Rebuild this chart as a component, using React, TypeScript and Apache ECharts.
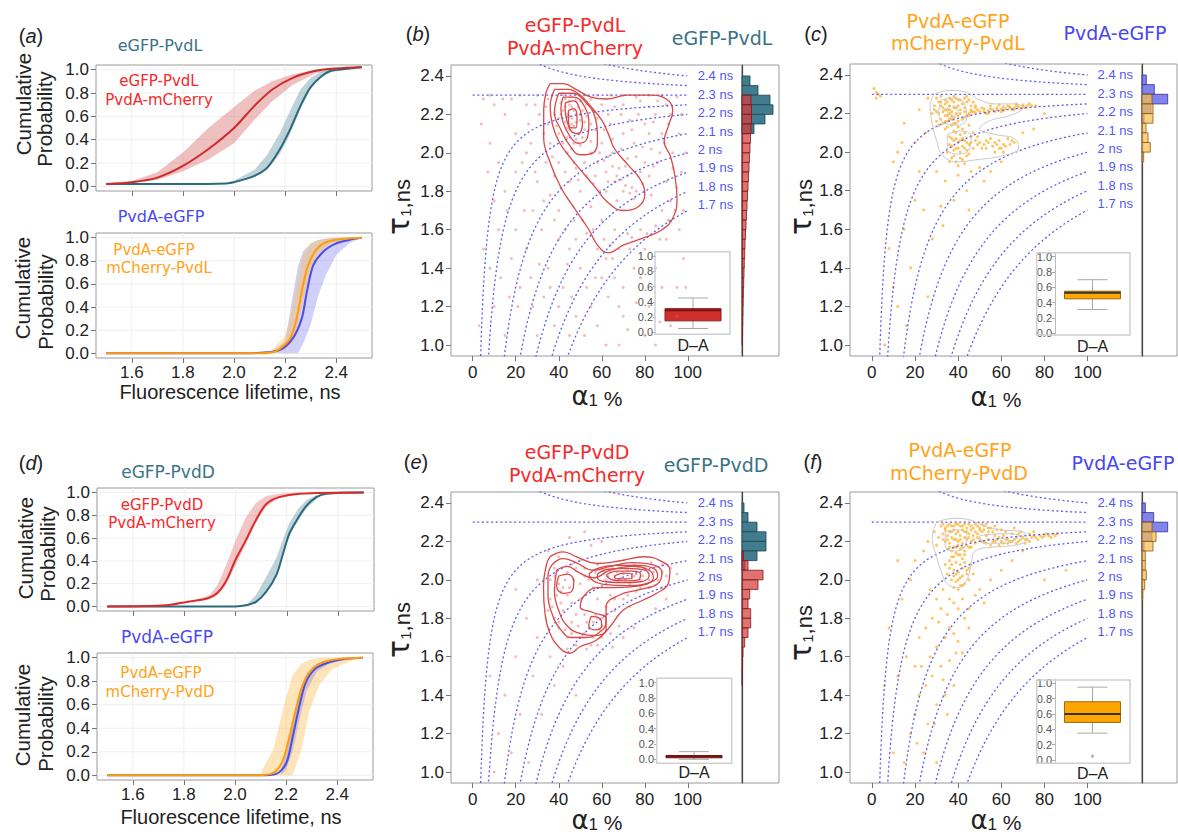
import React, { useEffect, useRef } from "react";
import * as echarts from "echarts";

const LIB = "'Liberation Sans', Arial, Helvetica, sans-serif";
const DJV = "'DejaVu Sans', Verdana, sans-serif";

const C_TEAL = "#3a7384";
const C_RED = "#f52a2a";
const C_BLUE = "#4848ee";
const C_ORANGE = "#ffa31a";

// ---------------- CDF panels (a), (d) ----------------
const CDF_X_MIN = 1.46, CDF_X_MAX = 2.54, CDF_Y_MIN = -0.04, CDF_Y_MAX = 1.04;
const CDF_X_TICKS = [1.6, 1.8, 2.0, 2.2, 2.4];
const CDF_Y_TICKS = [0, 0.2, 0.4, 0.6, 0.8, 1.0];

const A1_RED_LINE = [[1.5,0.02],[1.6,0.035],[1.7,0.075],[1.8,0.175],[1.9,0.32],[2.0,0.5],[2.08,0.69],[2.15,0.83],[2.23,0.93],[2.32,0.99],[2.4,1.01],[2.5,1.02]];
const A1_RED_BAND = [[1.5,0.02,0.025],[1.6,0.03,0.045],[1.7,0.055,0.12],[1.8,0.13,0.29],[1.9,0.23,0.5],[2.0,0.37,0.68],[2.08,0.57,0.82],[2.15,0.73,0.9],[2.23,0.87,0.96],[2.32,0.97,1.0],[2.4,1.0,1.01],[2.5,1.02,1.02]];
const A1_TEAL_LINE = [[1.5,0.02],[1.8,0.02],[1.97,0.025],[2.0,0.035],[2.08,0.09],[2.13,0.16],[2.18,0.32],[2.22,0.49],[2.26,0.69],[2.3,0.85],[2.34,0.94],[2.38,0.99],[2.45,1.01],[2.5,1.02]];
const A1_TEAL_BAND = [[1.97,0.02,0.03],[2.0,0.03,0.05],[2.08,0.08,0.14],[2.13,0.14,0.27],[2.18,0.28,0.46],[2.22,0.45,0.65],[2.26,0.66,0.83],[2.3,0.84,0.93],[2.34,0.93,0.98],[2.38,0.98,1.0],[2.45,1.0,1.01]];

const A2_BLUE_LINE = [[1.5,0],[2.0,0.0],[2.1,0.005],[2.18,0.03],[2.23,0.13],[2.265,0.3],[2.285,0.53],[2.31,0.76],[2.35,0.88],[2.4,0.95],[2.45,0.98],[2.5,1.0]];
const A2_BLUE_BAND = [[2.15,0,0.02],[2.2,0,0.1],[2.23,0,0.5],[2.25,0.0,0.75],[2.27,0.08,0.88],[2.3,0.25,0.95],[2.33,0.5,0.98],[2.36,0.68,0.99],[2.4,0.85,1.0],[2.45,0.95,1.0],[2.5,1.0,1.0]];
const A2_ORANGE_LINE = [[1.5,0],[2.1,0.0],[2.15,0.01],[2.18,0.04],[2.22,0.13],[2.245,0.3],[2.27,0.59],[2.29,0.76],[2.32,0.89],[2.36,0.96],[2.43,0.99],[2.5,1.0]];
const A2_ORANGE_BAND = [[2.15,0,0.03],[2.2,0.03,0.15],[2.23,0.1,0.4],[2.25,0.25,0.65],[2.27,0.45,0.85],[2.3,0.72,0.95],[2.33,0.86,0.98],[2.38,0.95,1.0],[2.45,0.99,1.0]];

const D1_RED_LINE = [[1.5,0.0],[1.73,0.01],[1.81,0.04],[1.89,0.07],[1.93,0.12],[1.965,0.23],[2.0,0.41],[2.04,0.58],[2.08,0.76],[2.12,0.9],[2.17,0.96],[2.25,0.99],[2.5,1.0]];
const D1_RED_BAND = [[1.85,0.05,0.06],[1.9,0.07,0.1],[1.93,0.1,0.19],[1.965,0.2,0.37],[2.0,0.36,0.58],[2.04,0.55,0.78],[2.08,0.74,0.91],[2.12,0.88,0.97],[2.17,0.95,0.99],[2.25,0.99,1.0]];
const D1_TEAL_LINE = [[1.5,0.0],[2.0,0.0],[2.04,0.01],[2.08,0.04],[2.12,0.13],[2.16,0.28],[2.185,0.46],[2.21,0.64],[2.245,0.78],[2.275,0.88],[2.315,0.96],[2.355,0.99],[2.5,1.0]];
const D1_TEAL_BAND = [[2.05,0.01,0.03],[2.08,0.03,0.1],[2.12,0.12,0.26],[2.16,0.27,0.43],[2.185,0.45,0.59],[2.21,0.62,0.73],[2.245,0.76,0.86],[2.28,0.87,0.94],[2.32,0.95,0.98]];

const D2_ORANGE_LINE = [[1.5,0],[2.09,0.0],[2.15,0.02],[2.186,0.12],[2.212,0.32],[2.238,0.56],[2.264,0.76],[2.297,0.89],[2.342,0.96],[2.407,0.99],[2.5,1.0]];
const D2_ORANGE_BAND = [[2.1,0,0.02],[2.15,0.0,0.22],[2.19,0.0,0.58],[2.225,0.0,0.85],[2.26,0.22,0.95],[2.29,0.54,0.98],[2.33,0.77,1.0],[2.38,0.9,1.0],[2.45,0.97,1.0],[2.5,1.0,1.0]];
const D2_BLUE_LINE = [[1.5,0],[2.1,0.0],[2.16,0.01],[2.2,0.1],[2.225,0.32],[2.251,0.58],[2.277,0.79],[2.316,0.91],[2.368,0.96],[2.433,0.99],[2.5,1.0]];
const D2_BLUE_BAND = [[2.18,0.0,0.05],[2.2,0.05,0.18],[2.225,0.2,0.45],[2.25,0.45,0.7],[2.28,0.72,0.87],[2.32,0.88,0.95],[2.37,0.95,0.98],[2.43,0.98,1.0]];

// ---------------- scatter panels (b), (c), (e), (f) ----------------
const SC_X_MIN = -10.1, SC_X_MAX = 125.2, SC_Y_MIN = 0.943, SC_Y_MAX = 2.457;
const SC_X_TICKS = [0, 20, 40, 60, 80, 100];
const SC_Y_TICKS = [1.0, 1.2, 1.4, 1.6, 1.8, 2.0, 2.2, 2.4];

// iso-lifetime guide lines of the two-exponential model: tau_m = a*tau1 + (1-a)*tau2
const TAU2 = 2.3;
const ISO_TAUM = [2.4, 2.35, 2.3, 2.25, 2.2, 2.1, 2.0, 1.9, 1.8, 1.7];
const ISO_LABELS = ["2.4 ns", "2.3 ns", "2.2 ns", "2.1 ns", "2 ns", "1.9 ns", "1.8 ns", "1.7 ns"];
const ISO_LABEL_TAU = [2.4, 2.305, 2.209, 2.113, 2.018, 1.923, 1.827, 1.732];
const ISO_LABEL_X = 104.4;

const B_PTS = [
[44,2.2],[46,2.18],[47,2.14],[45,2.12],[43,2.16],[48,2.2],[50,2.17],[49,2.1],[46,2.24],[42,2.22],[51,2.22],[44,2.08],[47,2.05],[52,2.12],[40,2.18],[53,2.19],[45,2.27],[48,2.28],[41,2.26],[50,2.04],[55,2.15],[38,2.2],[46,2.15],[44,2.13],[48,2.16],[45,2.19],
[55,2.0],[58,1.95],[62,1.9],[66,1.85],[70,1.8],[74,1.82],[60,2.05],[65,2.0],[68,1.92],[72,1.88],[57,1.88],[52,1.95],[48,1.92],[62,1.8],[67,1.75],[75,1.76],[78,1.9],[80,1.95],[64,2.15],[70,2.1],[75,2.05],[80,2.15],[85,2.2],[88,2.1],[90,2.25],[83,2.02],[86,1.95],[90,1.85],[92,1.75],[88,1.7],[85,1.62],[78,1.6],[72,1.58],[66,1.6],[60,1.65],[55,1.72],[50,1.8],[45,1.85],[40,1.95],[36,2.05],[35,2.15],[60,2.25],[70,2.25],[78,2.27],[55,2.28],
[5,2.28],[10,2.25],[15,2.2],[20,2.1],[25,2.0],[20,1.9],[15,1.8],[12,1.6],[8,1.4],[10,1.2],[15,1.05],[22,1.3],[25,1.5],[28,1.7],[30,1.85],[32,1.6],[35,1.4],[28,1.2],[38,1.1],[42,1.3],[45,1.5],[40,1.7],[50,1.4],[55,1.2],[60,1.35],[65,1.45],[70,1.3],[75,1.4],[80,1.5],[85,1.4],[90,1.55],[95,1.3],[92,1.1],[82,1.2],[72,1.08],[62,1.0],[52,1.05],[96,1.6],[97,1.9],[96,2.1],[18,2.28],[25,2.25],[30,2.3],[35,2.28],[12,1.95],[5,1.5],[3,1.1],[18,1.45],[24,1.7],[33,1.25],[48,1.15],[58,1.5],[68,1.2],[78,1.35],[88,1.3],[98,1.45],[93,2.0],[26,2.15],[8,2.05],[40,1.55],[47,1.65],[53,1.58],[63,1.25],[73,1.5],[83,1.78],[36,1.78],[44,1.42],
[8,2.3],[22,2.3],[42,2.3],[52,2.3],[64,2.3],[76,2.29],[88,2.3],[95,2.29]
];
const B_PTS_2 = [
[43,2.24],[45,2.25],[47,2.22],[49,2.24],[50,2.2],[52,2.16],[51,2.08],[48,2.07],[46,2.02],[44,2.0],[42,2.05],[40,2.1],[39,2.14],[41,2.2],[43,2.28],[46,2.29],[50,2.27],[53,2.25],[56,2.22],[58,2.18],[57,2.12],[55,2.06],[59,2.0],[61,1.96],[63,1.98],[65,1.93],[67,1.88],[69,1.86],[71,1.83],[73,1.79],[76,1.8],[79,1.84],[82,1.88],[84,1.93],[87,2.0],[89,2.05],[91,2.15],[92,2.2],[86,2.27],[82,2.24],[77,2.2],[73,2.17],[69,2.2],[66,2.24],[63,2.2],[61,2.12],[65,2.07],[69,2.02],[72,1.97],[76,1.98],[79,2.03],[82,2.1],[84,2.16],[74,2.12],[71,1.93],[63,1.85],[59,1.8],[56,1.84],[53,1.88],[49,1.86],[47,1.95],[43,1.9],[41,1.82],[38,1.88],[34,1.95],[37,1.98],[33,2.1],[31,2.2],[29,2.25],[27,2.05],[23,1.95],[29,1.9],[33,1.75],[38,1.65],[43,1.6],[48,1.55],[51,1.65],[56,1.6],[61,1.55],[64,1.52],[68,1.5],[74,1.56],[81,1.58],[87,1.55],[91,1.65],[94,1.7],[95,1.82],[93,1.92],[97,2.2],[99,2.0],[98,1.7],[99,1.3],[95,1.15],[87,1.12],[80,1.05],[76,1.22],[70,1.15],[66,1.35],[62,1.45],[57,1.35],[53,1.3],[46,1.25],[40,1.2],[36,1.3],[31,1.42],[27,1.35],[21,1.2],[17,1.25],[13,1.35],[20,1.6],[16,1.7],[10,1.75],[7,1.9],[4,2.15],[14,2.28],[34,2.24],[37,2.3],[58,2.3],[70,2.3],[82,2.3],[30,1.05],[45,1.05],[58,1.1],[68,1.0],[85,1.0]
];
const B_CONTOUR_1 = [[36,2.36],[42,2.36],[48,2.33],[55,2.29],[62,2.28],[72,2.3],[82,2.3],[90,2.28],[93,2.22],[91,2.14],[89,2.06],[92,1.98],[94,1.88],[95,1.76],[93,1.66],[88,1.6],[80,1.56],[70,1.52],[63,1.48],[58,1.52],[54,1.6],[48,1.7],[41,1.82],[36,1.95],[33,2.08],[33,2.22],[34,2.31],[36,2.36]];
const B_CONTOUR_2 = [[38,2.33],[44,2.33],[50,2.3],[55,2.24],[60,2.17],[63,2.1],[66,2.02],[72,1.94],[78,1.86],[80,1.78],[77,1.72],[70,1.7],[63,1.74],[57,1.82],[51,1.9],[45,1.98],[40,2.06],[37,2.15],[36,2.24],[38,2.33]];
const B_CONTOUR_3 = [[40,2.31],[46,2.31],[52,2.27],[57,2.18],[58,2.08],[56,2.0],[50,1.99],[45,2.04],[41,2.12],[38,2.21],[40,2.31]];
const B_CONTOUR_4 = [[42,2.29],[47,2.29],[52,2.24],[54,2.15],[53,2.07],[49,2.05],[45,2.09],[42,2.16],[41,2.23],[42,2.29]];
const B_CONTOUR_5 = [[43,2.26],[47,2.27],[50,2.22],[51,2.15],[49,2.1],[46,2.11],[44,2.16],[43,2.22],[43,2.26]];
const B_CONTOUR_6 = [[44.5,2.22],[47,2.23],[48.5,2.18],[48,2.13],[46,2.13],[44.5,2.17],[44.5,2.22]];
const B_HIST_TEAL = [[2.35,8],[2.3,16],[2.25,28],[2.2,31],[2.15,23],[2.1,12]];
const B_HIST_RED = [[2.25,9],[2.2,9.5],[2.15,9.5],[2.1,9],[2.05,8.5],[2.0,8],[1.95,7.5],[1.9,7],[1.85,6.5],[1.8,6],[1.75,5.5],[1.7,5],[1.65,4.5],[1.6,4],[1.55,3.5],[1.5,3],[1.45,2.7],[1.4,2.3],[1.35,2],[1.3,1.7],[1.25,1.4],[1.2,1.2],[1.15,1],[1.1,0.8],[1.05,0.6],[1.0,0.5]];
const B_BOX = [0.05, 0.15, 0.29, 0.31, 0.45];

const C_PTS = [
[30,2.28],[32,2.26],[34,2.27],[36,2.28],[38,2.26],[40,2.27],[42,2.25],[44,2.26],[46,2.24],[33,2.23],[35,2.22],[37,2.21],[39,2.23],[41,2.22],[43,2.21],[31,2.2],[34,2.19],[36,2.2],[38,2.18],[40,2.19],[42,2.17],[45,2.19],[30,2.16],[33,2.15],[35,2.16],[37,2.14],[39,2.15],[29,2.24],[28,2.2],[32,2.29],[38,2.29],[44,2.29],[47,2.21],[36,2.24],[34,2.25],[37,2.17],[35,2.13],[40,2.13],
[45,2.2],[48,2.205],[50,2.21],[52,2.21],[54,2.215],[56,2.22],[58,2.22],[60,2.225],[62,2.225],[64,2.23],[66,2.23],[68,2.235],[70,2.235],[72,2.24],[74,2.24],[76,2.24],[53,2.2],[57,2.21],[61,2.215],[65,2.22],[69,2.225],[51,2.23],[55,2.24],[59,2.245],[63,2.24],[67,2.25],
[36,2.08],[38,2.06],[40,2.05],[42,2.07],[44,2.05],[39,2.1],[41,2.09],[43,2.1],[37,2.03],[39,2.02],[41,2.0],[43,2.02],[45,2.04],[46,2.08],[35,2.0],[38,1.98],[42,1.96],[36,1.95],[40,1.93],[44,1.98],[47,2.02],
[48,2.06],[50,2.05],[52,2.04],[54,2.05],[56,2.03],[58,2.04],[60,2.02],[62,2.03],[64,2.04],[66,2.05],[55,2.07],[59,2.06],[63,2.07],[51,2.02],[57,2.0],[61,2.0],
[1,2.33],[2,2.31],[3,2.3],[4,2.29],[2,2.28],
[12,2.0],[14,2.05],[10,1.95],[20,2.05],[25,2.1],[22,1.9],[30,1.9],[34,1.85],[40,1.88],[46,1.9],[50,1.92],[15,1.6],[8,1.5],[10,1.3],[12,1.2],[18,1.4],[24,1.7],[28,1.55],[33,1.62],[38,1.75],[44,1.8],[52,1.85],[60,1.95],[70,2.1],[75,2.12],[80,2.2],[26,1.25],[6,1.0],[16,1.1],[45,1.7],[20,1.75],[32,1.72],[55,1.9],[15,2.15],[22,2.22],[26,2.28]
];
const C_PTS_2 = [
[33,2.21],[35,2.19],[37,2.19],[39,2.2],[41,2.2],[43,2.23],[36,2.22],[38,2.23],[40,2.24],[34,2.22],[32,2.24],[31,2.26],[35,2.26],[37,2.27],[39,2.28],[41,2.27],[43,2.28],[45,2.27],[47,2.26],[48,2.23],[46,2.21],[44,2.19],[43,2.18],[40,2.16],[38,2.15],[36,2.17],[34,2.16],[32,2.17],[30,2.21],[29,2.22],[31,2.14],[34,2.12],[38,2.11],[42,2.12],[45,2.14],
[37,2.07],[39,2.07],[41,2.06],[43,2.06],[40,2.02],[42,2.03],[44,2.01],[38,2.01],[36,2.04],[46,2.05],[45,1.99],[41,1.97],[39,1.95],[43,1.94],[37,1.97],[49,2.04],[53,2.06],[57,2.05],[61,2.04],[65,2.06],[53,2.02],[59,2.02],[47,2.1],[49,2.08],
[46,2.22],[49,2.22],[52,2.225],[55,2.225],[58,2.23],[61,2.235],[64,2.235],[67,2.24],[70,2.245],[73,2.25],[48,2.24],[54,2.2],[60,2.21],[66,2.22],[71,2.23]
];
const C_CONTOUR_1 = [[29,2.3],[36,2.32],[44,2.31],[50,2.27],[58,2.25],[66,2.25],[70,2.23],[64,2.19],[54,2.16],[50,2.12],[58,2.09],[66,2.07],[68,2.02],[60,1.98],[48,1.96],[40,1.95],[33,1.98],[30,2.06],[28,2.15],[27,2.24],[29,2.3]];
const C_CONTOUR_2 = [[32,2.27],[38,2.28],[43,2.25],[44,2.18],[40,2.14],[34,2.15],[31,2.2],[32,2.27]];
const C_CONTOUR_3 = [[35,2.09],[41,2.11],[46,2.08],[45,2.01],[39,1.99],[35,2.02],[35,2.09]];
const C_CONTOUR_4 = [[35,2.23],[38,2.24],[40,2.21],[38,2.18],[35,2.19],[35,2.23]];
const C_HIST_BLUE = [[2.35,4.3],[2.3,12.3],[2.25,25.7],[2.2,9],[2.15,2]];
const C_HIST_ORANGE = [[2.25,10],[2.2,11],[2.15,11],[2.1,4],[2.05,6],[2.0,8.3],[1.95,1.7]];
const C_BOX = [0.31, 0.45, 0.53, 0.55, 0.7];

const E_PTS = [
[66,2.02],[70,2.03],[74,2.01],[68,2.0],[72,2.05],[64,2.04],[76,2.03],[78,2.0],[62,2.0],[80,2.06],[84,2.04],[86,2.0],[60,2.06],[73,1.98],[69,2.01],[71,2.0],[67,2.04],[75,2.02],
[40,1.98],[43,2.0],[45,1.96],[41,1.94],[38,2.02],[44,2.04],
[56,1.78],[58,1.8],[60,1.76],[54,1.75],[62,1.82],[52,1.72],
[48,2.06],[52,2.02],[56,1.96],[50,1.9],[46,1.88],[42,1.84],[40,1.75],[44,1.7],[48,1.66],[52,1.82],[58,1.9],[64,1.92],[70,1.9],[76,1.94],[82,1.96],[66,1.84],[36,1.9],[38,1.8],[46,1.78],[60,1.7],[55,1.66],[50,2.1],[58,2.08],[88,2.08],[90,2.02],
[45,2.22],[52,2.25],[60,2.2],[35,2.15],[30,2.0],[25,1.8],[20,1.6],[15,1.4],[12,1.2],[18,1.1],[28,1.5],[32,1.3],[38,1.45],[42,1.55],[48,1.4],[36,1.6],[30,1.7],[22,1.3],[10,1.0],[26,1.05],[70,1.7],[75,1.75],[85,1.85],[90,1.9],[65,1.65],[40,2.12],[8,1.5],[55,2.18],[95,2.03],[20,1.95]
];
const E_PTS_2 = [
[65,2.06],[67,1.99],[71,2.06],[77,2.06],[79,2.02],[82,2.0],[85,2.07],[88,2.04],[63,2.02],[61,2.04],[57,2.04],[54,2.0],[50,1.98],[47,2.0],[42,1.96],[39,1.92],[37,1.86],[40,1.78],[43,1.74],[46,1.72],[50,1.7],[53,1.78],[57,1.82],[60,1.8],[59,1.74],[56,1.7],[62,1.86],[66,1.9],[72,1.92],[78,1.96],[83,2.09],[75,2.08],[69,2.08],[52,2.06],[46,2.08],[44,1.92],[48,1.82],[49,1.76],[41,1.88],[38,2.06],[36,2.0],[35,1.84],[44,1.64],[53,1.64],[58,1.66],[64,1.72],[68,1.76],[73,1.86],[88,1.96],[92,2.06]
];
const E_CONTOUR_1 = [[35.9,2.12],[42.1,2.146],[48.3,2.12],[57.6,2.085],[70,2.102],[79.3,2.12],[87.1,2.1],[91.7,2.05],[90.9,1.98],[85.5,1.93],[79.3,1.895],[70,1.843],[63.8,1.756],[57.6,1.687],[49.9,1.652],[45.2,1.618],[40.6,1.644],[35.9,1.722],[33.6,1.826],[32.9,1.964],[34.4,2.085],[35.9,2.12]];
const E_CONTOUR_2 = [[37,2.08],[42,2.11],[48,2.09],[56,2.05],[64,2.07],[74,2.09],[83,2.08],[88,2.04],[86,1.98],[78,1.95],[68,1.92],[62,1.86],[62,1.78],[58,1.72],[52,1.7],[46,1.7],[41,1.74],[37,1.82],[35,1.92],[35,2.02],[37,2.08]];
const E_CONTOUR_3 = [[39,2.05],[44,2.07],[49,2.04],[56,2.01],[64,2.05],[74,2.07],[82,2.05],[84,2.01],[78,1.97],[66,1.96],[58,1.96],[52,1.92],[50,1.86],[56,1.83],[62,1.8],[62,1.74],[57,1.71],[50,1.72],[44,1.76],[40,1.84],[38,1.94],[39,2.05]];
const E_CONTOUR_4 = [[40,2.02],[44,2.03],[47,1.99],[46,1.94],[42,1.93],[39,1.97],[40,2.02]];
const E_CONTOUR_5 = [[55,1.81],[59,1.8],[60,1.76],[57,1.74],[54,1.76],[55,1.81]];
const E_CONTOUR_6 = [[54,2.03],[58,2.06],[66,2.075],[76,2.075],[84,2.06],[86,2.02],[82,1.985],[72,1.97],[62,1.975],[56,1.995],[54,2.03]];
const E_CONTOUR_7 = [[58,2.03],[63,2.055],[72,2.06],[80,2.05],[82,2.02],[78,1.99],[70,1.985],[62,1.99],[58,2.01],[58,2.03]];
const E_CONTOUR_8 = [[62,2.025],[67,2.045],[74,2.045],[78,2.03],[77,2.0],[71,1.995],[65,2.0],[62,2.025]];
const E_CONTOUR_9 = [[66,2.02],[70,2.035],[74,2.03],[74,2.01],[70,2.005],[66,2.01],[66,2.02]];
const E_HIST_TEAL = [[2.35,2],[2.3,6],[2.25,15],[2.2,24],[2.15,24],[2.1,15],[2.05,3]];
const E_HIST_RED = [[2.1,1.5],[2.05,6],[2.0,21],[1.95,16],[1.9,7.7],[1.85,6],[1.8,8.7],[1.75,8.7],[1.7,6],[1.65,2.7],[1.6,1],[1.55,0.6],[1.5,0.4],[1.45,0.3]];
const E_BOX = [0.0, 0.02, 0.04, 0.05, 0.1];

const F_PTS = [
[32,2.28],[34,2.27],[36,2.29],[38,2.28],[40,2.29],[42,2.28],[44,2.27],[46,2.28],[48,2.29],[50,2.27],[52,2.28],[33,2.24],[35,2.23],[37,2.25],[39,2.24],[41,2.23],[43,2.25],[45,2.24],[47,2.23],[49,2.24],[51,2.25],[53,2.23],[34,2.2],[36,2.19],[38,2.21],[40,2.2],[42,2.19],[44,2.21],[46,2.2],[48,2.19],[35,2.16],[37,2.15],[39,2.17],[41,2.16],[43,2.15],[45,2.17],[31,2.22],[30,2.18],[29,2.25],[55,2.27],[57,2.28],[54,2.25],[38,2.12],[40,2.13],[42,2.11],[36,2.1],
[50,2.21],[52,2.2],[54,2.21],[56,2.2],[58,2.21],[60,2.2],[62,2.21],[64,2.2],[66,2.21],[68,2.2],[70,2.22],[72,2.21],[74,2.22],[76,2.22],[78,2.23],[80,2.23],[82,2.23],[84,2.24],[86,2.24],[55,2.18],[59,2.18],[63,2.19],[67,2.19],[71,2.19],[57,2.23],[61,2.23],[65,2.24],[69,2.25],[73,2.24],[60,2.26],[66,2.27],[75,2.25],
[36,2.06],[38,2.05],[40,2.04],[42,2.06],[44,2.05],[37,2.0],[39,1.99],[41,2.01],[43,1.98],[45,2.0],[38,1.96],[40,1.95],[42,1.97],[35,2.03],[46,2.08],[34,2.08],[47,2.03],
[30,1.9],[32,1.85],[35,1.82],[38,1.88],[42,1.9],[45,1.85],[48,1.92],[28,1.8],[25,1.75],[22,1.7],[30,1.65],[34,1.7],[38,1.72],[40,1.68],[42,1.62],[36,1.58],[32,1.55],[28,1.5],[25,1.45],[22,1.4],[20,1.3],[18,1.2],[26,1.25],[30,1.35],[34,1.4],[38,1.45],[24,1.1],[15,1.05],[10,1.1],[12,1.5],[8,1.75],[14,1.9],[18,2.0],[20,2.1],[24,2.15],[26,2.2],[12,2.1],[50,1.95],[55,2.0],[60,2.05],[65,2.1],[70,2.15],[80,2.0],[90,2.05],[45,1.75],[52,1.88],[16,1.6],[20,1.55],[33,1.95],[27,1.95],[6,1.45]
];
const F_PTS_2 = [
[33,2.29],[35,2.28],[37,2.28],[39,2.29],[41,2.28],[43,2.29],[45,2.29],[47,2.27],[49,2.28],[51,2.29],[53,2.29],[34,2.26],[36,2.25],[38,2.26],[40,2.25],[42,2.26],[44,2.25],[46,2.26],[48,2.25],[50,2.26],[52,2.26],[33,2.21],[35,2.21],[37,2.22],[39,2.21],[41,2.21],[43,2.22],[45,2.22],[47,2.21],[49,2.22],[36,2.17],[38,2.17],[40,2.18],[42,2.17],[44,2.18],[46,2.17],[39,2.14],[41,2.13],[43,2.13],[37,2.12],[39,2.09],[41,2.08],[43,2.09],[45,2.06],[37,2.08],[38,2.02],[40,2.0],[42,2.02],[44,2.03],[41,1.97],[39,2.03],
[51,2.2],[53,2.19],[57,2.2],[59,2.22],[61,2.19],[63,2.21],[65,2.2],[67,2.22],[69,2.21],[71,2.21],[73,2.2],[75,2.23],[77,2.21],[79,2.22],[81,2.24],[83,2.22],[85,2.23],[56,2.25],[62,2.25],[68,2.24],[54,2.27],[58,2.26],
[36,1.9],[40,1.85],[43,1.8],[36,1.75],[31,1.78],[39,1.62],[33,1.48],[27,1.6],[23,1.55],[29,1.25],[35,1.3],[21,1.15],[30,1.05]
];
const F_CONTOUR_1 = [[30,2.3],[38,2.32],[46,2.31],[52,2.28],[60,2.26],[70,2.25],[72,2.21],[66,2.18],[56,2.17],[48,2.15],[46,2.08],[44,2.0],[40,1.96],[35,1.98],[32,2.05],[30,2.12],[28,2.22],[30,2.3]];
const F_CONTOUR_2 = [[34,2.25],[40,2.26],[44,2.23],[43,2.17],[38,2.15],[34,2.18],[34,2.25]];
const F_CONTOUR_3 = [[50,2.23],[60,2.24],[68,2.23],[62,2.19],[52,2.19],[50,2.23]];
const F_HIST_BLUE = [[2.35,3.3],[2.3,11.7],[2.25,25.7],[2.2,10],[2.15,2]];
const F_HIST_ORANGE = [[2.25,10],[2.2,14],[2.15,11],[2.1,3.3],[2.05,3.3],[2.0,4.3],[1.95,2.7],[1.9,0.8]];
const F_BOX = [0.35, 0.49, 0.6, 0.76, 0.95];
const F_OUTLIERS = [[0, 0.05]];

const HIST_BIN = 0.05;
const INSET_TICKS = [0, 0.2, 0.4, 0.6, 0.8, 1.0];

// ---------------- helpers ----------------
function isoCurve(tm: number) {
  const pts: number[][] = [];
  if (tm === TAU2) pts.push([0, TAU2]);
  for (let k = 1; k <= 400; k++) {
    const a = k * 0.25;
    pts.push([a, TAU2 + (tm - TAU2) / (a / 100)]);
  }
  return pts;
}

const fmt1 = (v: number) => Number(v).toFixed(1);

function axisTick(vals: number[], len = 5) {
  return { show: true, customValues: vals, length: len, lineStyle: { color: "#777", width: 1 } };
}

function bandSeries(gi: number, band: number[][], color: string) {
  return {
    type: "custom", xAxisIndex: gi, yAxisIndex: gi, silent: true, clip: true,
    data: [[band[0][0], band[0][1]]],
    renderItem: (_p: any, api: any) => {
      const up = band.map((d) => api.coord([d[0], d[2]]));
      const lo = band.slice().reverse().map((d) => api.coord([d[0], d[1]]));
      return { type: "polygon", shape: { points: up.concat(lo) }, style: { fill: color } };
    },
  };
}

function lineSeries(gi: number, data: number[][], color: string, width = 2, smooth: any = 0.3, extra: any = {}) {
  return {
    type: "line", xAxisIndex: gi, yAxisIndex: gi, data, showSymbol: false, symbol: "none", smooth, silent: true,
    lineStyle: { color, width, ...extra }, z: 3,
  };
}

function cdfGridLines(gi: number) {
  return {
    type: "custom", xAxisIndex: gi, yAxisIndex: gi, silent: true, z: 0,
    data: [[CDF_X_TICKS[0], CDF_Y_TICKS[0]]],
    renderItem: (_p: any, api: any) => {
      const ch: any[] = [];
      CDF_X_TICKS.forEach((v) => {
        const a = api.coord([v, CDF_Y_MIN]); const b = api.coord([v, CDF_Y_MAX]);
        ch.push({ type: "line", shape: { x1: a[0], y1: a[1], x2: b[0], y2: b[1] }, style: { stroke: "#efefef", lineWidth: 1 } });
      });
      CDF_Y_TICKS.forEach((v) => {
        const a = api.coord([CDF_X_MIN, v]); const b = api.coord([CDF_X_MAX, v]);
        ch.push({ type: "line", shape: { x1: a[0], y1: a[1], x2: b[0], y2: b[1] }, style: { stroke: "#efefef", lineWidth: 1 } });
      });
      return { type: "group", children: ch };
    },
  };
}

function histSeries(gi: number, bins: number[][], fill: string, stroke: string) {
  return {
    type: "custom", xAxisIndex: gi, yAxisIndex: gi, silent: true, data: bins, encode: { x: 1, y: 0 },
    renderItem: (_p: any, api: any) => {
      const lo = api.value(0), v = api.value(1);
      const p0 = api.coord([0, lo + HIST_BIN]);
      const p1 = api.coord([v, lo]);
      return { type: "rect", shape: { x: p0[0], y: p0[1], width: p1[0] - p0[0], height: p1[1] - p0[1] }, style: { fill, stroke, lineWidth: 0.8 } };
    },
  };
}

function boxSeries(gi: number, stats: number[], fill: string, edge: string, median: string) {
  return {
    type: "custom", xAxisIndex: gi, yAxisIndex: gi, silent: true, data: [[0, ...stats]],
    renderItem: (_p: any, api: any) => {
      const x = api.coord([0, 0])[0];
      const y = (k: number) => api.coord([0, api.value(k)])[1];
      const yMin = y(1), yQ1 = y(2), yMed = y(3), yQ3 = y(4), yMax = y(5);
      const hw = 28, cw = 15;
      const wl = { stroke: "#a8a8a8", lineWidth: 1 };
      return {
        type: "group", children: [
          { type: "line", shape: { x1: x, y1: yMax, x2: x, y2: yMin }, style: wl },
          { type: "line", shape: { x1: x - cw, y1: yMax, x2: x + cw, y2: yMax }, style: wl },
          { type: "line", shape: { x1: x - cw, y1: yMin, x2: x + cw, y2: yMin }, style: wl },
          { type: "rect", shape: { x: x - hw, y: yQ3, width: 2 * hw, height: Math.max(1.5, yQ1 - yQ3) }, style: { fill, stroke: edge, lineWidth: 1 } },
          { type: "line", shape: { x1: x - hw, y1: yMed, x2: x + hw, y2: yMed }, style: { stroke: median, lineWidth: 2 } },
        ],
      };
    },
  };
}

function buildOption() {
  const o: any = { animation: false, grid: [], xAxis: [], yAxis: [], series: [], graphic: [] };

  const cdfPanel = (box: any, showX: boolean, bands: any[], lines: any[]) => {
    const gi = o.grid.length;
    o.grid.push({ ...box, show: true, borderColor: "#9a9a9a", borderWidth: 1, outerBoundsMode: "none" });
    o.xAxis.push({
      gridIndex: gi, type: "value", min: CDF_X_MIN, max: CDF_X_MAX, position: "bottom",
      axisLine: { show: false, onZero: false }, splitLine: { show: false }, axisTick: axisTick(CDF_X_TICKS),
      axisLabel: { show: showX, customValues: CDF_X_TICKS, formatter: fmt1, fontSize: 17, fontFamily: LIB, color: "#222", margin: 6 },
    });
    o.yAxis.push({
      gridIndex: gi, type: "value", min: CDF_Y_MIN, max: CDF_Y_MAX, position: "left",
      axisLine: { show: false, onZero: false }, splitLine: { show: false }, axisTick: axisTick(CDF_Y_TICKS),
      axisLabel: { customValues: CDF_Y_TICKS, formatter: fmt1, fontSize: 17, fontFamily: LIB, color: "#222", margin: 7 },
    });
    o.series.push(cdfGridLines(gi));
    bands.forEach((b) => o.series.push(bandSeries(gi, b.data, b.color)));
    lines.forEach((l) => o.series.push(lineSeries(gi, l.data, l.color, 2)));
  };

  cdfPanel({ left: 96, top: 65, width: 276, height: 126 }, false,
    [{ data: A1_RED_BAND, color: "rgba(214,90,90,0.38)" }, { data: A1_TEAL_BAND, color: "rgba(70,125,145,0.35)" }],
    [{ data: A1_TEAL_LINE, color: "#2b6a7c" }, { data: A1_RED_LINE, color: "#cc2b2b" }]);
  cdfPanel({ left: 96, top: 233, width: 276, height: 125 }, true,
    [{ data: A2_BLUE_BAND, color: "rgba(120,120,240,0.35)" }, { data: A2_ORANGE_BAND, color: "rgba(250,190,90,0.45)" }],
    [{ data: A2_BLUE_LINE, color: "#4d4de6" }, { data: A2_ORANGE_LINE, color: "#ff9c0a" }]);
  cdfPanel({ left: 97, top: 488, width: 277, height: 123 }, false,
    [{ data: D1_RED_BAND, color: "rgba(225,110,110,0.4)" }, { data: D1_TEAL_BAND, color: "rgba(70,125,145,0.35)" }],
    [{ data: D1_TEAL_LINE, color: "#2b6a7c" }, { data: D1_RED_LINE, color: "#dd2b2b" }]);
  cdfPanel({ left: 97, top: 653, width: 276, height: 127 }, true,
    [{ data: D2_ORANGE_BAND, color: "rgba(250,195,100,0.45)" }, { data: D2_BLUE_BAND, color: "rgba(120,120,240,0.35)" }],
    [{ data: D2_BLUE_LINE, color: "#4d4de6" }, { data: D2_ORANGE_LINE, color: "#ff9c0a" }]);

  const scatterPanel = (cfg: any) => {
    const gi = o.grid.length;
    o.grid.push({ ...cfg.main, show: true, borderColor: "#9a9a9a", borderWidth: 1, outerBoundsMode: "none" });
    o.xAxis.push({
      gridIndex: gi, type: "value", min: SC_X_MIN, max: SC_X_MAX, position: "bottom",
      axisLine: { show: false, onZero: false }, splitLine: { show: false }, axisTick: axisTick(SC_X_TICKS),
      axisLabel: { customValues: SC_X_TICKS, fontSize: 17, fontFamily: LIB, color: "#222", margin: 8 },
    });
    o.yAxis.push({
      gridIndex: gi, type: "value", min: SC_Y_MIN, max: SC_Y_MAX, position: "left",
      axisLine: { show: false, onZero: false }, splitLine: { show: false }, axisTick: axisTick(SC_Y_TICKS),
      axisLabel: { customValues: SC_Y_TICKS, formatter: fmt1, fontSize: 17, fontFamily: LIB, color: "#222", margin: 7 },
    });
    o.series.push({
      type: "scatter", xAxisIndex: gi, yAxisIndex: gi, data: cfg.pts, symbolSize: cfg.ptSize, silent: true,
      itemStyle: { color: cfg.ptColor }, z: 2,
    });
    ISO_TAUM.forEach((tm) => o.series.push(lineSeries(gi, isoCurve(tm), "#5b5bf2", 1.3, false, { type: [2, 2.6] })));
    cfg.contours.forEach((c: number[][]) => o.series.push(lineSeries(gi, c, cfg.contourColor, cfg.contourWidth, 0.45)));
    o.series.push({
      type: "scatter", xAxisIndex: gi, yAxisIndex: gi, silent: true, symbolSize: 1, itemStyle: { color: "rgba(0,0,0,0)" },
      data: ISO_LABEL_TAU.map((t, i) => [ISO_LABEL_X, t, ISO_LABELS[i]]), z: 5,
      label: { show: true, position: "right", distance: 0, formatter: (p: any) => p.data[2], color: "#2121ff", fontSize: 13, fontFamily: LIB },
    });

    const hi = o.grid.length;
    o.grid.push({ ...cfg.hist, show: true, borderColor: "#9a9a9a", borderWidth: 1, outerBoundsMode: "none" });
    o.xAxis.push({ gridIndex: hi, type: "value", min: 0, max: cfg.histMax, show: false });
    o.yAxis.push({
      gridIndex: hi, type: "value", min: SC_Y_MIN, max: SC_Y_MAX, position: "left",
      axisLine: { show: true, onZero: false, lineStyle: { color: "#444", width: 1.2 } },
      axisTick: { show: false }, axisLabel: { show: false }, splitLine: { show: false },
    });
    cfg.hists.forEach((h: any) => o.series.push(histSeries(hi, h.data, h.fill, h.stroke)));

    const ii = o.grid.length;
    o.grid.push({ ...cfg.inset, show: false, outerBoundsMode: "none" });
    o.xAxis.push({
      gridIndex: ii, type: "category", data: ["D\u2013A"], position: "bottom", axisLine: { show: false, onZero: false }, axisTick: { show: false },
      axisLabel: { fontSize: 16, fontFamily: LIB, color: "#222", margin: 3 },
    });
    o.yAxis.push({
      gridIndex: ii, type: "value", min: -0.03, max: 1.055, position: "left",
      axisLine: { show: cfg.insetAxisLine, onZero: false, lineStyle: { color: "#bbb" } }, splitLine: { show: false },
      axisTick: { show: true, customValues: INSET_TICKS, length: 3, lineStyle: { color: "#aaa" } },
      axisLabel: { customValues: INSET_TICKS, formatter: fmt1, fontSize: 11, fontFamily: LIB, color: "#555", margin: 3 },
    });
    o.series.push(boxSeries(ii, cfg.box, cfg.boxFill, cfg.boxEdge, cfg.boxMedian));
    if (cfg.outliers) {
      o.series.push({ type: "scatter", xAxisIndex: ii, yAxisIndex: ii, data: cfg.outliers, symbolSize: 3, silent: true, itemStyle: { color: "#999" } });
    }
    o.graphic.push({ type: "rect", silent: true, shape: cfg.insetBorder, style: { fill: "none", stroke: "#d0d0d0", lineWidth: 1.5 }, z: 10 });
  };

  const redPts = "rgba(232,100,100,0.55)";
  const orangePts = "rgba(255,165,10,0.8)";
  const tealHist = { fill: "#417d8e", stroke: "#1f4450" };
  const redHist = { fill: "rgba(214,60,60,0.72)", stroke: "#7a1c1c" };
  const blueHist = { fill: "rgba(118,118,238,0.9)", stroke: "#30308a" };
  const orHist = { fill: "rgba(250,190,80,0.72)", stroke: "#8a5a10" };

  scatterPanel({
    main: { left: 451, top: 65, width: 291, height: 291 }, hist: { left: 742, top: 65, width: 37, height: 291 }, histMax: 37,
    inset: { left: 656, top: 251.8, width: 74, height: 82.8 }, insetBorder: { x: 655, y: 251.7, width: 75, height: 82.6 }, insetAxisLine: false,
    pts: B_PTS.concat(B_PTS_2), ptSize: 3, ptColor: redPts,
    contours: [B_CONTOUR_1, B_CONTOUR_2, B_CONTOUR_3, B_CONTOUR_4, B_CONTOUR_5, B_CONTOUR_6], contourColor: "#d94848", contourWidth: 1.3,
    hists: [{ data: B_HIST_TEAL, ...tealHist }, { data: B_HIST_RED, ...redHist }],
    box: B_BOX, boxFill: "#d0302c", boxEdge: "#8f1b1b", boxMedian: "#7a1212",
  });
  scatterPanel({
    main: { left: 850, top: 64, width: 292, height: 292 }, hist: { left: 1142, top: 64, width: 35, height: 292 }, histMax: 35,
    inset: { left: 1055, top: 252.5, width: 75, height: 83.1 }, insetBorder: { x: 1036.7, y: 252.7, width: 93.3, height: 82.3 }, insetAxisLine: true,
    pts: C_PTS.concat(C_PTS_2), ptSize: 3, ptColor: orangePts,
    contours: [C_CONTOUR_1, C_CONTOUR_2, C_CONTOUR_3, C_CONTOUR_4], contourColor: "#c9c9c9", contourWidth: 1,
    hists: [{ data: C_HIST_BLUE, ...blueHist }, { data: C_HIST_ORANGE, ...orHist }],
    box: C_BOX, boxFill: "#ffa500", boxEdge: "#a06a10", boxMedian: "#333",
  });
  scatterPanel({
    main: { left: 451, top: 492, width: 291, height: 291 }, hist: { left: 742, top: 492, width: 37, height: 291 }, histMax: 37,
    inset: { left: 657, top: 678.5, width: 74, height: 83.1 }, insetBorder: { x: 656.7, y: 678.3, width: 75, height: 85 }, insetAxisLine: false,
    pts: E_PTS.concat(E_PTS_2), ptSize: 3, ptColor: redPts,
    contours: [E_CONTOUR_1, E_CONTOUR_2, E_CONTOUR_3, E_CONTOUR_4, E_CONTOUR_5, E_CONTOUR_6, E_CONTOUR_7, E_CONTOUR_8, E_CONTOUR_9], contourColor: "#d94848", contourWidth: 1.3,
    hists: [{ data: E_HIST_TEAL, ...tealHist }, { data: E_HIST_RED, ...redHist }],
    box: E_BOX, boxFill: "#b8302a", boxEdge: "#701414", boxMedian: "#701414",
  });
  scatterPanel({
    main: { left: 850, top: 492, width: 292, height: 291 }, hist: { left: 1142, top: 492, width: 35, height: 291 }, histMax: 35,
    inset: { left: 1055, top: 679.1, width: 75, height: 83.2 }, insetBorder: { x: 1036.7, y: 680, width: 93.3, height: 83.3 }, insetAxisLine: true,
    pts: F_PTS.concat(F_PTS_2), ptSize: 3, ptColor: orangePts,
    contours: [F_CONTOUR_1, F_CONTOUR_2, F_CONTOUR_3], contourColor: "#c9c9c9", contourWidth: 1,
    hists: [{ data: F_HIST_BLUE, ...blueHist }, { data: F_HIST_ORANGE, ...orHist }],
    box: F_BOX, boxFill: "#ffa500", boxEdge: "#a06a10", boxMedian: "#333", outliers: F_OUTLIERS,
  });

  // ---------- texts ----------
  const txt = (text: string, x: number, y: number, fill: string, size: number, family = DJV, extra: any = {}) => ({
    type: "text", x, y, silent: true, z: 20, ...extra,
    style: { text, fill, fontSize: size, fontFamily: family, align: "center", verticalAlign: "middle" },
  });
  const letter = (l: string, x: number, y: number) => ({
    type: "text", x, y, silent: true, z: 20,
    style: {
      text: "{p|(}{i|" + l + "}{p|)}", align: "center", verticalAlign: "middle",
      rich: {
        p: { fontSize: 20, fontFamily: LIB, fill: "#222", color: "#222" },
        i: { fontSize: 20, fontFamily: LIB, fontStyle: "italic", fill: "#222", color: "#222" },
      },
    },
  });
  const G = o.graphic;
  G.push(letter("a", 31, 36), letter("b", 418, 34), letter("c", 816, 34), letter("d", 31, 463), letter("e", 416, 462), letter("f", 813, 462));

  G.push(txt("eGFP-PvdL", 160, 45, C_TEAL, 16));
  G.push(txt("eGFP-PvdL", 159, 81, C_RED, 15), txt("PvdA-mCherry", 159, 100, C_RED, 15));
  G.push(txt("PvdA-eGFP", 161, 216, C_BLUE, 16));
  G.push(txt("PvdA-eGFP", 154, 250, C_ORANGE, 15), txt("mCherry-PvdL", 159, 268, C_ORANGE, 15));
  G.push(txt("eGFP-PvdD", 168, 472, C_TEAL, 17));
  G.push(txt("eGFP-PvdD", 162, 505, C_RED, 15), txt("PvdA-mCherry", 162, 523, C_RED, 15));
  G.push(txt("PvdA-eGFP", 167, 637, C_BLUE, 17));
  G.push(txt("PvdA-eGFP", 161, 673, C_ORANGE, 15), txt("mCherry-PvdD", 160, 692, C_ORANGE, 15));

  G.push(txt("eGFP-PvdL", 575, 25, C_RED, 19), txt("PvdA-mCherry", 575, 48, C_RED, 19), txt("eGFP-PvdL", 722, 38, C_TEAL, 19));
  G.push(txt("PvdA-eGFP", 958, 21, C_ORANGE, 19), txt("mCherry-PvdL", 958, 43, C_ORANGE, 19), txt("PvdA-eGFP", 1115, 33, C_BLUE, 19));
  G.push(txt("eGFP-PvdD", 577, 452, C_RED, 19), txt("PvdA-mCherry", 577, 475, C_RED, 19), txt("eGFP-PvdD", 716, 465, C_TEAL, 19));
  G.push(txt("PvdA-eGFP", 960, 450, C_ORANGE, 19), txt("mCherry-PvdD", 959, 473, C_ORANGE, 19), txt("PvdA-eGFP", 1123, 463, C_BLUE, 19));

  const rot = { rotation: Math.PI / 2 };
  [[23, 104, 44, 119], [22, 288, 45, 302], [25, 548, 47, 554], [22, 715, 45, 724]].forEach((p) => {
    G.push(txt("Cumulative", p[0], p[1], "#222", 20.5, LIB, rot), txt("Probability", p[2], p[3], "#222", 20.5, LIB, rot));
  });
  G.push(txt("Fluorescence lifetime, ns", 230, 392, "#222", 20, LIB), txt("Fluorescence lifetime, ns", 231, 817, "#222", 20, LIB));

  const tauLabel = (x: number, y: number) => ({
    type: "text", x, y, rotation: Math.PI / 2, silent: true, z: 20,
    style: {
      text: "{t|\u03c4}{s|1}{p|,ns}", align: "center", verticalAlign: "middle",
      rich: {
        t: { fontSize: 30, fontFamily: DJV, fill: "#222", color: "#222", verticalAlign: "bottom" },
        s: { fontSize: 15, fontFamily: LIB, fill: "#222", color: "#222", verticalAlign: "bottom" },
        p: { fontSize: 22, fontFamily: LIB, fill: "#222", color: "#222", verticalAlign: "bottom" },
      },
    },
  });
  const alphaLabel = (x: number, y: number) => ({
    type: "text", x, y, silent: true, z: 20,
    style: {
      text: "{a|\u03b1}{n|1}{p| %}", align: "center", verticalAlign: "middle",
      rich: {
        a: { fontSize: 26, fontFamily: DJV, fill: "#222", color: "#222", verticalAlign: "bottom" },
        n: { fontSize: 17, fontFamily: LIB, fill: "#222", color: "#222", verticalAlign: "bottom" },
        p: { fontSize: 21, fontFamily: LIB, fill: "#222", color: "#222", verticalAlign: "bottom" },
      },
    },
  });
  G.push(tauLabel(398, 207), tauLabel(800, 207), tauLabel(398, 630), tauLabel(800, 633));
  G.push(alphaLabel(597, 396), alphaLabel(996, 397), alphaLabel(597, 820), alphaLabel(996, 820));

  return o;
}

export default function App() {
  const ref = useRef<HTMLDivElement>(null);
  useEffect(() => {
    if (!ref.current) return;
    const chart = echarts.init(ref.current, undefined, { renderer: "svg" });
    chart.setOption(buildOption());
    return () => chart.dispose();
  }, []);
  return (
    <div
      ref={ref}
      style={{ position: "absolute", left: 0, top: 0, width: 1178, height: 836, background: "#fff" }}
    />
  );
}
